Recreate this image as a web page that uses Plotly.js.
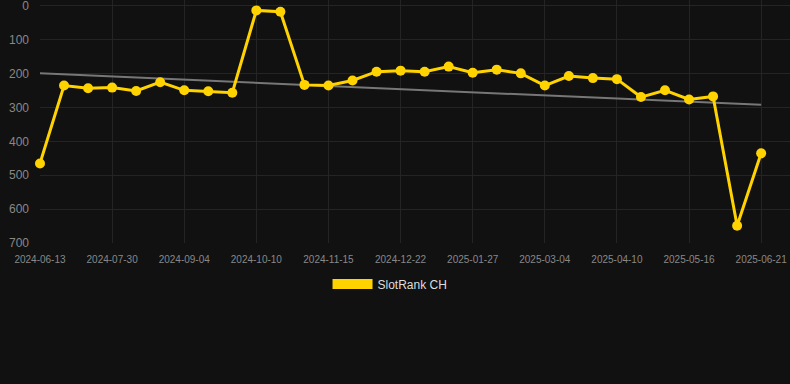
<!DOCTYPE html>
<html>
<head>
<meta charset="utf-8">
<script src="https://cdn.plot.ly/plotly-3.0.1.min.js"></script>
<style>
  html, body { margin: 0; padding: 0; background: #111111; }
  #chart { width: 790px; height: 384px; }
</style>
</head>
<body>
<div id="chart"></div>
<script>
// Dates (category axis; labelled every third point)
const dates = [
  "2024-06-13", "2024-06-29", "2024-07-14", "2024-07-30", "2024-08-11", "2024-08-23",
  "2024-09-04", "2024-09-16", "2024-09-28", "2024-10-10", "2024-10-22", "2024-11-03",
  "2024-11-15", "2024-11-27", "2024-12-09", "2024-12-22", "2025-01-03", "2025-01-15",
  "2025-01-27", "2025-02-08", "2025-02-20", "2025-03-04", "2025-03-16", "2025-03-28",
  "2025-04-10", "2025-04-22", "2025-05-04", "2025-05-16", "2025-05-28", "2025-06-09",
  "2025-06-21"
];
// SlotRank CH rank values
const rankCH = [
  465, 235, 243, 241, 251, 225, 249, 252, 256, 13, 17, 233, 235, 220, 194, 191,
  194, 179, 197, 188, 199, 235, 207, 213, 216, 269, 249, 276, 267, 649, 435
];
// Trend line end points
const trendDates = ["2024-06-13", "2025-06-21"];
const trendValues = [199, 292];
// Tick labels shown on the x axis
const tickDates = [
  "2024-06-13", "2024-07-30", "2024-09-04", "2024-10-10", "2024-11-15", "2024-12-22",
  "2025-01-27", "2025-03-04", "2025-04-10", "2025-05-16", "2025-06-21"
];
const yTicks = [0, 100, 200, 300, 400, 500, 600, 700];

const gold = "#FFD300";

const traces = [
  {
    x: trendDates, y: trendValues, type: "scatter", mode: "lines",
    line: { color: "#777777", width: 2 }, showlegend: false, hoverinfo: "skip",
    cliponaxis: false
  },
  {
    x: dates, y: rankCH, type: "scatter", mode: "lines+markers",
    name: "SlotRank CH",
    line: { color: gold, width: 3 },
    marker: { color: gold, size: 10 },
    showlegend: false,
    cliponaxis: false
  },
  {
    x: [null], y: [null], type: "scatter", mode: "lines",
    name: "SlotRank CH",
    line: { color: gold, width: 11 },
    showlegend: true
  }
];

const layout = {
  width: 790, height: 384,
  paper_bgcolor: "#111111", plot_bgcolor: "#111111",
  margin: { l: 40, r: 0, t: 0, b: 141 },
  font: { family: "Arial, 'Liberation Sans', sans-serif", color: "#888888" },
  xaxis: {
    type: "category",
    categoryorder: "array", categoryarray: dates,
    range: [0, 31.2],
    tickmode: "array", tickvals: tickDates, ticktext: tickDates,
    showgrid: true, gridcolor: "#242424", gridwidth: 1,
    zeroline: false, showline: false, ticks: "",
    tickfont: { size: 10, color: "#888888" },
    ticklabelstandoff: 9,
    ticklabeloverflow: "allow"
  },
  yaxis: {
    range: [700, -17.7],
    tickmode: "array", tickvals: yTicks,
    showgrid: true, gridcolor: "#242424", gridwidth: 1,
    zeroline: false, showline: false, ticks: "",
    tickfont: { size: 12, color: "#888888" },
    ticklabelstandoff: 10,
    ticklabeloverflow: "allow"
  },
  showlegend: true,
  legend: {
    orientation: "h", x: 0.4667, xanchor: "center", y: -0.169, yanchor: "middle",
    font: { size: 12, color: "#dddddd" },
    itemwidth: 40,
    bgcolor: "rgba(0,0,0,0)"
  }
};

Plotly.newPlot("chart", traces, layout, { displayModeBar: false, staticPlot: true });
</script>
</body>
</html>
